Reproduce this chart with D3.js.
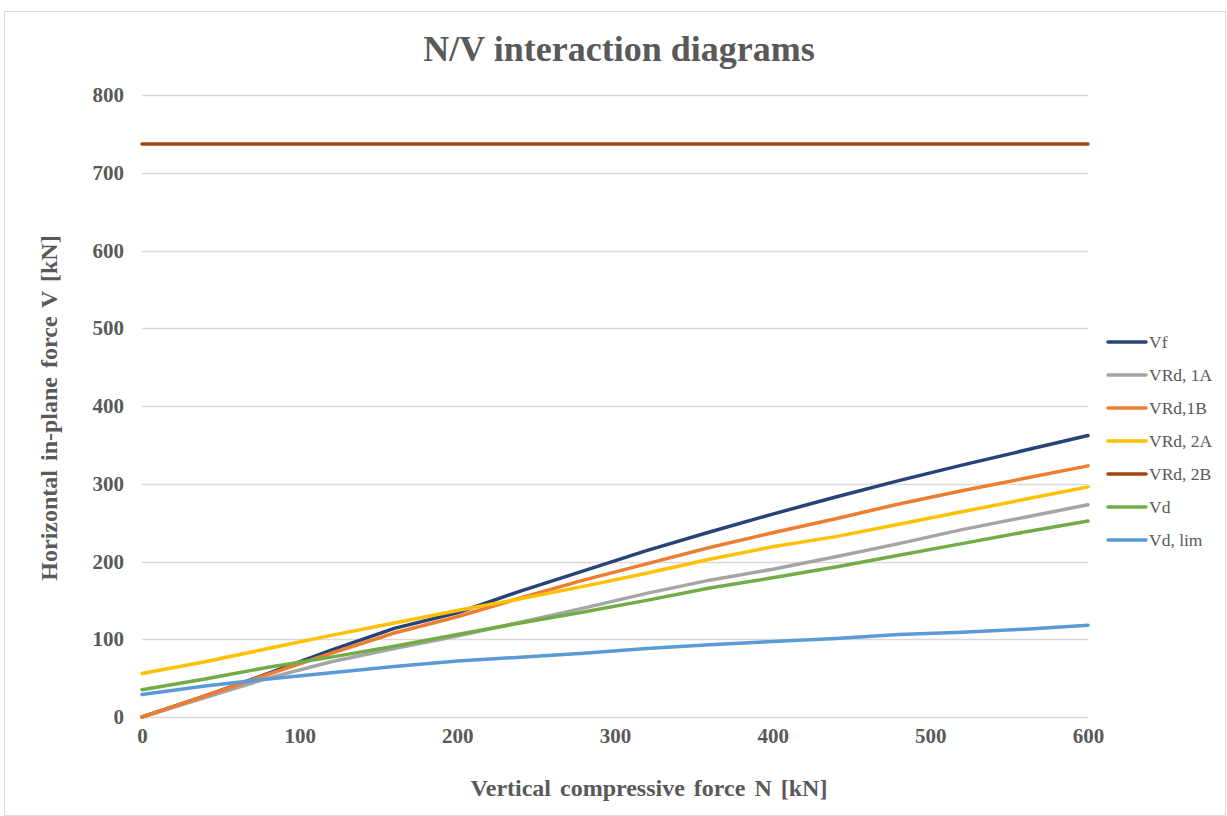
<!DOCTYPE html>
<html>
<head>
<meta charset="utf-8">
<script src="https://cdn.jsdelivr.net/npm/d3@7"></script>
<style>
  html, body { margin: 0; padding: 0; background: #fff; }
  svg { display: block; }
  text { font-family: "Liberation Serif", "Times New Roman", serif; fill: #595959; }
</style>
</head>
<body>
<svg id="chart" width="1227" height="816"></svg>
<script>
// ---- data ----
const nValues = [0, 40, 80, 120, 160, 200, 240, 280, 320, 360, 400, 440, 480, 520, 560, 600];
const vf      = [0, 27, 56, 86, 114, 134, 162, 188, 214, 238, 261, 283, 304, 324, 343, 362];
const vrd1A   = [0, 25, 50, 71, 88, 104, 122, 140, 159, 176, 190, 206, 223, 241, 257, 273];
const vrd1B   = [0, 27, 55, 82, 108, 129, 153, 176, 197, 218, 237, 255, 274, 291, 307, 323];
const vrd2A   = [56, 71, 88, 105, 121, 137, 152, 168, 185, 203, 219, 232, 248, 264, 280, 296];
const vrd2B   = [737, 737, 737, 737, 737, 737, 737, 737, 737, 737, 737, 737, 737, 737, 737, 737];
const vd      = [35, 49, 64, 77, 91, 106, 121, 135, 150, 166, 179, 193, 208, 223, 238, 252];
const vdLim   = [29, 40, 49, 57, 65, 72, 77, 82, 88, 93, 97, 101, 106, 109, 113, 118];
const seriesNames = ["Vf", "VRd, 1A", "VRd,1B", "VRd, 2A", "VRd, 2B", "Vd", "Vd, lim"];
const seriesColors = ["#264478", "#a5a5a5", "#ed7d31", "#ffc000", "#9e480e", "#70ad47", "#5b9bd5"];
const xTicks = [0, 100, 200, 300, 400, 500, 600];
const yTicks = [0, 100, 200, 300, 400, 500, 600, 700, 800];
const titleText = "N/V interaction diagrams";
const xTitle = "Vertical compressive force N [kN]";
const yTitle = "Horizontal in-plane force V [kN]";

const seriesValues = [vf, vrd1A, vrd1B, vrd2A, vrd2B, vd, vdLim];

// ---- layout ----
const svg = d3.select("#chart");
const plot = { left: 142, right: 1088, top: 95, bottom: 717 };
const fontFam = '"Liberation Serif", "Times New Roman", serif';

svg.append("rect")
  .attr("x", 4.5).attr("y", 11.5)
  .attr("width", 1221).attr("height", 804)
  .attr("fill", "#fff").attr("stroke", "#d9d9d9").attr("stroke-width", 1);

const x = d3.scaleLinear().domain([0, 600]).range([plot.left, plot.right]);
const y = d3.scaleLinear().domain([0, 800]).range([plot.bottom, plot.top]);

// gridlines
svg.append("g")
  .selectAll("line")
  .data(yTicks)
  .join("line")
  .attr("x1", plot.left).attr("x2", plot.right)
  .attr("y1", d => Math.round(y(d)) + 0.5).attr("y2", d => Math.round(y(d)) + 0.5)
  .attr("stroke", "#d9d9d9").attr("stroke-width", 1.3);

// y axis labels
const yAxis = d3.axisLeft(y).tickValues(yTicks).tickSize(0).tickPadding(18);
const gy = svg.append("g").attr("transform", `translate(${plot.left},0)`).call(yAxis);
gy.select(".domain").remove();
gy.selectAll("text")
  .style("font-family", fontFam)
  .style("font-size", "21px").style("font-weight", "bold").attr("fill", "#595959");

// x axis labels
const xAxis = d3.axisBottom(x).tickValues(xTicks).tickSize(0).tickPadding(11);
const gx = svg.append("g").attr("transform", `translate(0,${plot.bottom})`).call(xAxis);
gx.select(".domain").remove();
gx.selectAll("text")
  .style("font-family", fontFam)
  .style("font-size", "21px").style("font-weight", "bold").attr("fill", "#595959");

// lines
const line = d3.line().x((d, i) => x(nValues[i])).y(d => y(d));
svg.append("g")
  .selectAll("path")
  .data(seriesValues)
  .join("path")
  .attr("d", d => line(d))
  .attr("fill", "none")
  .attr("stroke", (d, i) => seriesColors[i])
  .attr("stroke-width", 3.5)
  .attr("stroke-linejoin", "round")
  .attr("stroke-linecap", "round");

// title
svg.append("text")
  .attr("x", 619).attr("y", 61)
  .attr("text-anchor", "middle")
  .style("font-size", "36px").style("font-weight", "bold")
  .text(titleText);

// axis titles
svg.append("text")
  .attr("x", 649).attr("y", 796)
  .attr("text-anchor", "middle")
  .style("font-size", "24px").style("font-weight", "bold")
  .style("word-spacing", "3px")
  .text(xTitle);

svg.append("text")
  .attr("transform", "translate(57,408) rotate(-90)")
  .attr("text-anchor", "middle")
  .style("font-size", "24px").style("font-weight", "bold")
  .style("word-spacing", "3px")
  .text(yTitle);

// legend
const legend = svg.append("g");
const legendY0 = 342, legendStep = 33;
const items = legend.selectAll("g").data(seriesNames).join("g")
  .attr("transform", (d, i) => `translate(1108,${legendY0 + i * legendStep})`);
items.append("line")
  .attr("x1", 0).attr("x2", 38).attr("y1", 0).attr("y2", 0)
  .attr("stroke", (d, i) => seriesColors[i])
  .attr("stroke-width", 3.5).attr("stroke-linecap", "round");
items.append("text")
  .attr("x", 41).attr("y", 0).attr("dy", "0.35em")
  .style("font-size", "17.5px")
  .text(d => d);
</script>
</body>
</html>
